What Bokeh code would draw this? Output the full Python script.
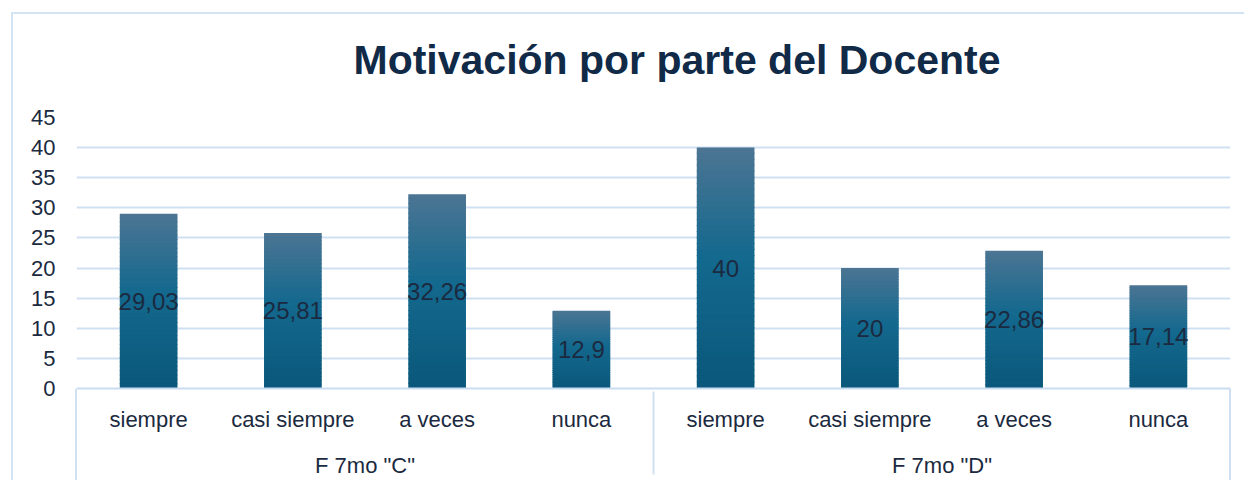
from bokeh.plotting import figure
from bokeh.models import FactorRange, ColumnDataSource, FixedTicker, Range1d
from bokeh.core.properties import value
from bokeh.embed import file_html
from bokeh.resources import INLINE

# ---- data ----
grupos = ['F 7mo "C"', 'F 7mo "D"']
categorias = ["siempre", "casi siempre", "a veces", "nunca"]
valores_c = [29.03, 25.81, 32.26, 12.9]
valores_d = [40, 20, 22.86, 17.14]
y_ticks = [0, 5, 10, 15, 20, 25, 30, 35, 40, 45]
titulo = "Motivación por parte del Docente"

factors = [(g, c) for g in grupos for c in categorias]
valores = valores_c + valores_d
etiquetas = [f"{v:g}".replace(".", ",") for v in valores]

FONT = "Liberation Sans"
TXT = "#1b2a40"
LINE = "#cfe0f3"

def hex2rgb(h):
    h = h.lstrip("#")
    return tuple(int(h[i:i + 2], 16) for i in (0, 2, 4))

def rgb2hex(c):
    return "#%02x%02x%02x" % tuple(int(round(x)) for x in c)

stops = [(0.0, hex2rgb("#4d7593")), (0.45, hex2rgb("#14698e")), (1.0, hex2rgb("#0a587b"))]

def grad(t):
    for (t0, c0), (t1, c1) in zip(stops[:-1], stops[1:]):
        if t <= t1:
            f = (t - t0) / (t1 - t0)
            return rgb2hex([a + (b - a) * f for a, b in zip(c0, c1)])
    return rgb2hex(stops[-1][1])

N = 40
xs, tops, bottoms, colors = [], [], [], []
for fac, v in zip(factors, valores):
    for k in range(N):
        xs.append(fac)
        tops.append(v * (1 - k / N) + (0.15 if k > 0 else 0))
        bottoms.append(v * (1 - (k + 1) / N))
        colors.append(grad((k + 0.5) / N))
bars = ColumnDataSource(dict(x=xs, top=tops, bottom=bottoms, color=colors))
labels = ColumnDataSource(dict(x=factors, y=[v / 2 for v in valores], text=etiquetas))

W, H = 1233, 480
ML, MR, MT, MB = 65, 14, 116, 91

p = figure(
    x_range=FactorRange(factors=factors, group_padding=0, factor_padding=0, range_padding=0),
    y_range=Range1d(0, 45),
    width=W, height=H,
    output_backend="svg", toolbar_location=None,
    min_border_left=ML, min_border_right=MR, min_border_top=MT, min_border_bottom=MB,
    title=titulo,
)
axis_y = H - MB
sep = f"linear-gradient({LINE},{LINE})"
edge = "linear-gradient(#d5e4f4,#d5e4f4)"
p.styles = {
    "margin-left": "11px",
    "background": (f"{edge} 0px 12px / 2px 100% no-repeat, "
                   f"{edge} 0px 12px / 100% 2px no-repeat, "
                   f"{sep} {ML - 1}px {axis_y}px / 2px 200px no-repeat, "
                   f"{sep} {W - MR - 1}px {axis_y}px / 2px 200px no-repeat, white"),
}
p.border_fill_color = None
p.background_fill_color = "white"

p.vbar(x="x", top="top", bottom="bottom", width=0.4, source=bars,
       fill_color="color", line_color=None)
p.text(x="x", y="y", text="text", source=labels, text_align="center",
       text_baseline="middle", text_font=value(FONT), text_font_size="24px",
       text_color=TXT)

p.title.text_font = FONT
p.title.text_font_size = "41px"
p.title.text_font_style = "bold"
p.title.text_color = "#102a47"
p.title.align = "left"
p.title.offset = 277
p.title.standoff = 69

p.outline_line_color = None
p.xgrid.grid_line_color = None
p.ygrid.grid_line_color = LINE
p.ygrid.grid_line_width = 2
p.yaxis.ticker = FixedTicker(ticks=y_ticks)
p.yaxis.axis_line_color = None
p.yaxis.major_tick_line_color = None
p.yaxis.minor_tick_line_color = None
p.yaxis.major_tick_out = 0
p.yaxis.major_label_standoff = 21
p.yaxis.major_label_text_font = FONT
p.yaxis.major_label_text_font_size = "22px"
p.yaxis.major_label_text_color = TXT

xa = p.xaxis[0]
xa.axis_line_color = "#c9dcf1"
xa.axis_line_width = 2
xa.major_tick_line_color = None
xa.major_tick_out = 0
xa.major_label_standoff = 18
xa.major_label_text_font = FONT
xa.major_label_text_font_size = "22px"
xa.major_label_text_color = TXT
xa.group_text_font = FONT
xa.group_text_font_size = "22px"
xa.group_text_color = TXT
xa.group_text_font_style = "normal"
xa.separator_line_color = LINE
xa.separator_line_width = 2

open("out.html", "w").write(file_html(p, INLINE))
